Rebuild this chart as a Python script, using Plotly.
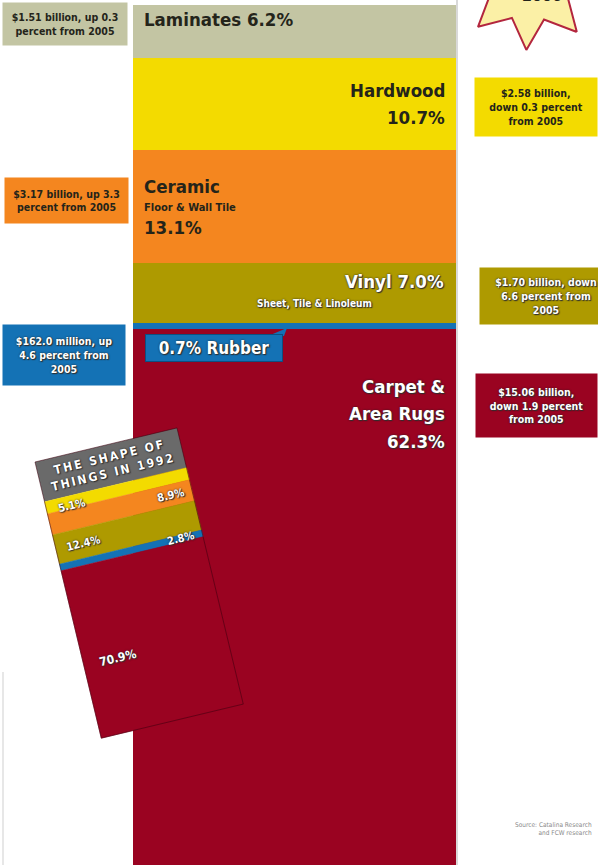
import math
import plotly.graph_objects as go

# ---------------- data ----------------
categories = ["Laminates", "Hardwood", "Ceramic", "Vinyl", "Rubber", "Carpet & Area Rugs"]
share_2006 = [6.2, 10.7, 13.1, 7.0, 0.7, 62.3]
share_1992 = [0.0, 5.1, 8.9, 12.4, 2.8, 70.9]
sales_notes = [
    "$1.51 billion, up 0.3<br>percent from 2005",
    "$2.58 billion,<br>down 0.3 percent<br>from 2005",
    "$3.17 billion, up 3.3<br>percent from 2005",
    "$1.70 billion, down<br>6.6 percent from<br>2005",
    "$162.0 million, up<br>4.6 percent from<br>2005",
    "$15.06 billion,<br>down 1.9 percent<br>from 2005",
]
star_label = "2006"
inset_title = "THE SHAPE OF<br>THINGS IN 1992"
source_text = "Source: Catalina Research<br>and FCW research"

# ---------------- styles ----------------
COLORS = {
    "Laminates": "#C3C5A3",
    "Hardwood": "#F3DB00",
    "Ceramic": "#F4861F",
    "Vinyl": "#AE9A00",
    "Rubber": "#1472B5",
    "Carpet & Area Rugs": "#9A0321",
}
FONT = "DejaVu Sans Condensed, Liberation Sans Narrow, Roboto Condensed, Arial Narrow, sans-serif"
DARK = "#24241a"
WSHADOW = "0px 0px 2px #222, 1px 1px 1px #333"
W, H = 598, 865

fig = go.Figure()

# ---------------- main stacked bar (x/y) ----------------
for cat, val in zip(categories, share_2006):
    fig.add_trace(go.Bar(
        x=["2006"], y=[val], name=cat, marker_color=COLORS[cat],
        marker_line_width=0, hoverinfo="name+y", xaxis="x", yaxis="y",
    ))

# ---------------- inset: the shape of things in 1992 (x2/y2 pixel space) ----------------
TL = (35.0, 462.0)
ang = math.radians(13.5)
c, s = math.cos(ang), math.sin(ang)
IW, HEAD, BAR_LEN = 146.0, 41.0, 243.0


def P(u, v):
    return (TL[0] + u * c + v * s, TL[1] - u * s + v * c)


def quad(v0, v1):
    pts = [P(0, v0), P(IW, v0), P(IW, v1), P(0, v1), P(0, v0)]
    return [p[0] for p in pts], [p[1] for p in pts]


xs, ys = quad(0, HEAD)
fig.add_trace(go.Scatter(x=xs, y=ys, fill="toself", fillcolor="#6A6A6A", mode="lines",
                         line=dict(width=0), hoverinfo="skip", xaxis="x2", yaxis="y2"))
scale = BAR_LEN / sum(share_1992)
v = HEAD
seg_pos = {}
for cat, val in zip(categories, share_1992):
    if val <= 0:
        continue
    v1 = v + val * scale
    xs, ys = quad(v, v1)
    fig.add_trace(go.Scatter(x=xs, y=ys, fill="toself", fillcolor=COLORS[cat], mode="lines",
                             line=dict(width=0.5, color=COLORS[cat]), hoverinfo="skip",
                             xaxis="x2", yaxis="y2"))
    seg_pos[cat] = (v, v1)
    v = v1
xs, ys = quad(0, HEAD + BAR_LEN)
fig.add_trace(go.Scatter(x=xs, y=ys, mode="lines", line=dict(width=1, color="rgba(60,0,15,0.55)"),
                         hoverinfo="skip", xaxis="x2", yaxis="y2"))

# star burst (decoration, top right)
cx, cy, Ro, Ri = 530.0, -20.0, 70.0, 42.0
sx, sy = [], []
for k in range(16):
    a = math.radians(48 + 22.5 * k)
    r = Ro if k % 2 == 0 else Ri
    sx.append(cx + r * math.cos(a))
    sy.append(cy + r * math.sin(a))
sx.append(sx[0]); sy.append(sy[0])
fig.add_trace(go.Scatter(x=sx, y=sy, fill="toself", fillcolor="#FBF0A6", mode="lines",
                         line=dict(width=2, color="#B3263E"), hoverinfo="skip",
                         xaxis="x2", yaxis="y2", cliponaxis=True))
fig.add_trace(go.Scatter(x=[542], y=[-3], mode="text", text=[f"<b>{star_label}</b>"],
                         textfont=dict(family=FONT, size=16, color=DARK), hoverinfo="skip",
                         xaxis="x2", yaxis="y2", cliponaxis=True))

ann = []


def A(text, x, y, size, color=DARK, xanchor="center", shadow=None, **kw):
    f = dict(family=FONT, size=size, color=color, weight=700)
    if shadow:
        f["shadow"] = shadow
    d = dict(text=text, x=x, y=y, xref="x2", yref="y2", showarrow=False,
             xanchor=xanchor, yanchor="middle", font=f)
    d.update(kw)
    ann.append(d)


# labels in the main bar
A(f"{categories[0]} {share_2006[0]:.1f}%", 142, 19, 18.5, xanchor="left")
A(categories[1], 447, 90, 18.5, xanchor="right")
A(f"{share_2006[1]:.1f}%", 447, 117, 18.5, xanchor="right")
A(categories[2], 142, 186, 18.5, xanchor="left")
A("Floor & Wall Tile", 142, 207, 11, xanchor="left")
A(f"{share_2006[2]:.1f}%", 142, 227, 18.5, xanchor="left")
A(f"{categories[3]} {share_2006[3]:.1f}%", 446, 281, 18.5, color="white", xanchor="right", shadow=WSHADOW)
A("Sheet, Tile & Linoleum", 314, 303, 10, color="white", shadow=WSHADOW)
A("Carpet &", 447, 386, 18.5, color="white", xanchor="right", shadow=WSHADOW)
A("Area Rugs", 447, 413, 18.5, color="white", xanchor="right", shadow=WSHADOW)
A(f"{share_2006[5]:.1f}%", 447, 441, 18.5, color="white", xanchor="right", shadow=WSHADOW)
A(f"{share_2006[4]:.1f}% {categories[4]}", 214, 348, 17, color="white", shadow=WSHADOW,
  bgcolor=COLORS["Rubber"], bordercolor="#0d4f80", borderwidth=1, borderpad=0, width=136, height=26)

# side boxes with sales figures
side = [  # (x center, y center, width, height, text color)
    (65, 24, 124, 42, DARK),
    (536, 107, 122, 58, DARK),
    (66, 200, 123, 45, DARK),
    (546, 296, 132, 56, "white"),
    (64, 355, 122, 60, "white"),
    (536, 405, 121, 63, "white"),
]
for cat, note, (x, y, w, h, tc) in zip(categories, sales_notes, side):
    A(note, x, y, 10.5, color=tc, shadow=(WSHADOW if tc == "white" else None),
      bgcolor=COLORS[cat], borderpad=0, width=w, height=h)

# inset labels
ang_deg = -13.5


def IA(text, u, vv, size=12, **kw):
    x, y = P(u, vv)
    A(text, x, y, size, color="white", shadow=WSHADOW, textangle=ang_deg, **kw)


spaced = "\u2009".join(list(inset_title.replace("<br>", "\n"))).replace("\u2009\n\u2009", "<br>")
IA(spaced, IW / 2, HEAD / 2, 12)
h0, h1 = seg_pos["Hardwood"]
IA(f"{share_1992[1]:.1f}%", 26, (h0 + h1) / 2 + 4, 11)
c0, c1 = seg_pos["Ceramic"]
IA(f"{share_1992[2]:.1f}%", 124, (c0 + c1) / 2, 11)
v0_, v1_ = seg_pos["Vinyl"]
IA(f"{share_1992[3]:.1f}%", 28, (v0_ + v1_) / 2, 11)
r0, r1 = seg_pos["Rubber"]
IA(f"{share_1992[4]:.1f}%", 124, (r0 + r1) / 2, 11)
k0, k1 = seg_pos["Carpet & Area Rugs"]
IA(f"{share_1992[5]:.1f}%", 35, k0 + 98, 12)

# source
ann.append(dict(text=source_text, x=594, y=829, xref="x2", yref="y2", showarrow=False,
                xanchor="right", yanchor="middle", align="right",
                font=dict(family=FONT, size=6.5, color="#8a8a8a")))

shapes = [
    dict(type="line", xref="x2", yref="y2", x0=457, x1=457, y0=0, y1=H,
         line=dict(color="#d9d9d9", width=2), layer="below"),
    dict(type="line", xref="x2", yref="y2", x0=3, x1=3, y0=672, y1=H,
         line=dict(color="#cfcfcf", width=1)),
    dict(type="path", xref="x2", yref="y2", path="M 268 336 L 284 336 L 287 328 Z",
         fillcolor=COLORS["Rubber"], line=dict(width=0)),
]

fig.update_layout(
    width=W, height=H, margin=dict(l=0, r=0, t=0, b=0),
    paper_bgcolor="white", plot_bgcolor="rgba(0,0,0,0)",
    barmode="stack", bargap=0, showlegend=False,
    xaxis=dict(domain=[133 / W, 456 / W], type="category", visible=False, fixedrange=True),
    yaxis=dict(domain=[0, 1], range=[100.0, -0.6], visible=False, fixedrange=True),
    xaxis2=dict(domain=[0, 1], range=[0, W], anchor="y2", visible=False, fixedrange=True),
    yaxis2=dict(domain=[0, 1], range=[H, 0], anchor="x2", visible=False, fixedrange=True),
    annotations=ann, shapes=shapes,
)

fig.write_html(
    "out.html",
    config={"displayModeBar": False},
    post_script="document.body.style.margin='0';document.body.style.padding='0';"
                "document.body.style.overflow='hidden';",
)
